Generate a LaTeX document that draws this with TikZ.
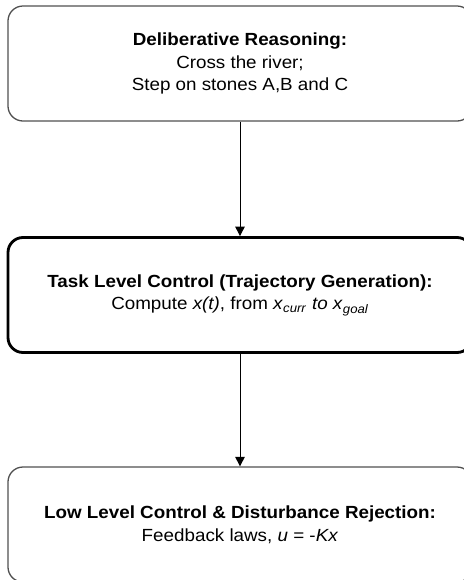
\documentclass[tikz,border=0pt]{standalone}
\usepackage{fontspec}
\setmainfont[FakeStretch=1.07]{Liberation Sans}
\usetikzlibrary{arrows.meta}
\definecolor{edge}{RGB}{80,80,80}

\begin{document}
\begin{tikzpicture}[x=0.03cm,y=-0.03cm,>={Triangle[length=8pt,width=8pt]},
  font=\fontsize{15}{19.5}\selectfont,
  level/.style={draw=edge,line width=1.1pt,rounded corners=0.45cm,align=center,
    minimum width=13.92cm,minimum height=3.45cm,inner sep=0pt},
  mid/.style={level,draw=black,line width=2.4pt}]
\useasboundingbox (0,0) rectangle (463,580);
\node[level] (delib) at (240,63.5) {\textbf{Deliberative Reasoning:}\\Cross the river;\\Step on stones A,B and C};
\node[mid] (task) at (240,295) {\textbf{Task Level Control (Trajectory Generation):}\\Compute \textit{x(t)}, from \textit{x}\textsubscript{\textit{curr}} \textit{to x}\textsubscript{\textit{goal}}};
\node[level] (low) at (240,524.5) {\textbf{Low Level Control \& Disturbance Rejection:}\\Feedback laws, \textit{u} = -\textit{Kx}};
\draw[->,line width=0.8pt] (delib) -- (task);
\draw[->,line width=0.8pt] (task) -- (low);
\end{tikzpicture}
\end{document}
